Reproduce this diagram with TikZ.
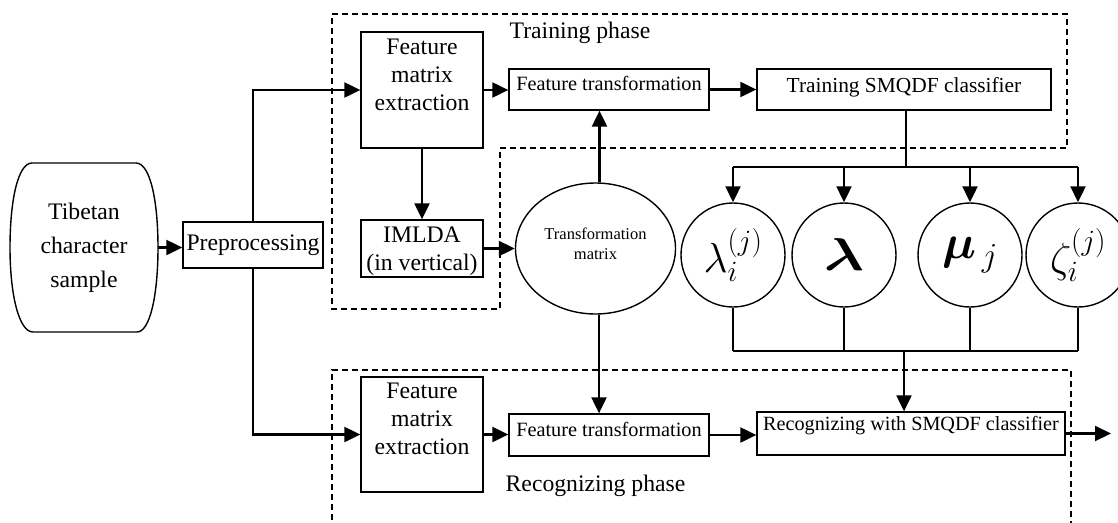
\RequirePackage{fix-cm}
\documentclass[tikz,border=0pt]{standalone}
\usepackage{amsmath,bm,graphicx}
\usepackage{fontspec}
\setmainfont{Liberation Serif}
\usetikzlibrary{arrows.meta,shapes.geometric}
\newcommand\lift[2]{\raisebox{#1}[\height][\depth]{#2}}
\newcommand\fbig{\fontsize{23.7}{28}\selectfont}
\newcommand\fmidA{\fontsize{20.3}{24}\selectfont}
\newcommand\fmidB{\fontsize{21.4}{25}\selectfont}
\newcommand\fmidC{\fontsize{20.2}{24}\selectfont}
\begin{document}
\begin{tikzpicture}[x=1pt,y=-1pt,
  box/.style={draw,line width=1.3pt,inner sep=0pt,align=center},
  conn/.style={line width=2.1pt,-{Triangle[length=16pt,width=15pt]}},
  wire/.style={line width=1.4pt},
  region/.style={line width=1.3pt,dash pattern=on 6pt off 4pt},
  param/.style={draw,circle,line width=1.4pt,minimum size=104pt,inner sep=0pt}]
\useasboundingbox (0,0) rectangle (1118,522);
\clip (0,0) rectangle (1118,522);

% dashed phase regions
\draw[region] (332,14) -- (1067,14) -- (1067,148) -- (500,148) -- (500,309) -- (332,309) -- cycle;
\draw[region] (332,530) -- (332,370) -- (1071,370) -- (1071,530);
\node (trainlbl) at (580,33) {\fbig Training phase};
\node (recoglbl) at (595.5,486) {\fbig Recognizing phase};

% input sample
\draw[wire] (32,163) -- (136,163) .. controls (150,163) and (158,200) .. (158,247.5)
  .. controls (158,295) and (150,332) .. (137,332) -- (33,332)
  .. controls (19,332) and (10,295) .. (10,247.5)
  .. controls (10,200) and (18,163) .. (32,163) -- cycle;
\node[align=center,inner sep=0pt,minimum width=148pt,minimum height=169pt,font=\fontsize{23.7}{34}\selectfont] (tib) at (84,247.5) {Tibetan\\character\\sample};

\node[box,minimum width=140pt,minimum height=46pt] (prep) at (253,245) {\fbig Preprocessing};

% training phase
\node[box,minimum width=122pt,minimum height=116pt] (fme1) at (422,90)
  {\lift{13pt}{\fbig\begin{tabular}{@{}c@{}}Feature\\matrix\\extraction\end{tabular}}};
\node[box,minimum width=122pt,minimum height=57pt] (imlda) at (422,248.5)
  {\lift{-2.5pt}{\fbig\begin{tabular}{@{}c@{}}IMLDA\\(in vertical)\end{tabular}}};
\node[box,minimum width=200pt,minimum height=41pt] (ft1) at (609,89.5)
  {\lift{6pt}{\fmidA Feature transformation}};
\node[box,minimum width=294pt,minimum height=41pt] (tsc) at (904,89.5)
  {\lift{2pt}{\fmidB Training SMQDF classifier}};
\node[draw,ellipse,line width=1.4pt,minimum width=160pt,minimum height=131pt,inner sep=0pt] (tm) at (595.5,248.5)
  {\lift{3.5pt}{\fontsize{16.5}{20}\selectfont\begin{tabular}{@{}c@{}}Transformation\\matrix\end{tabular}}};

% parameters
\node[param] (c1) at (733,255) {\fontsize{42}{46}\selectfont$\lambda_i^{(j)}$};
\node[param] (c2) at (844,255) {\fontsize{46}{50}\selectfont\scalebox{1.3}[1]{$\bm{\lambda}$}};
\node[param] (c3) at (970,255) {\fontsize{48}{52}\selectfont$\bm{\mu}_{\,j}$};
\node[param] (c4) at (1078,255) {\fontsize{42}{46}\selectfont$\zeta_i^{(j)}$};

% recognizing phase
\node[box,minimum width=122pt,minimum height=115pt] (fme2) at (422,434.5)
  {\lift{13.5pt}{\fbig\begin{tabular}{@{}c@{}}Feature\\matrix\\extraction\end{tabular}}};
\node[box,minimum width=200pt,minimum height=42pt] (ft2) at (609,435)
  {\lift{6pt}{\fmidA Feature transformation}};
\node[box,minimum width=308pt,minimum height=43pt] (rsc) at (911,433.5)
  {\lift{7.5pt}{\fmidC Recognizing with SMQDF classifier}};

\coordinate (bt) at (906,167);
\coordinate (bb) at (904,351);
\coordinate (out) at (1111,433.5);

% connectors
\draw[conn] (tib.east) -- (prep.west |- tib.east);
\draw[conn] (prep.north) |- (fme1.west);
\draw[conn] (prep.south) |- (fme2.west);
\draw[conn] (fme1.east) -- (ft1.west |- fme1.east);
\draw[conn] (ft1.east) -- (tsc.west);
\draw[conn] (fme1.south) -- (imlda.north);
\draw[conn] (imlda.east) -- (tm.west);
\draw[conn] ([xshift=4pt]tm.north) -- ([xshift=4pt]tm.north |- ft1.south);
\draw[conn] ([xshift=3.5pt]tm.south) -- ([xshift=3.5pt]tm.south |- ft2.north);
\draw[conn] (fme2.east) -- (ft2.west |- fme2.east);
\draw[conn] (ft2.east) -- (rsc.west |- ft2.east);
\draw[conn] (rsc.east) -- (out);

\draw[wire] (tsc.south -| bt) -- (bt);
\draw[wire] (c1.north |- bt) -- (c4.north |- bt);
\foreach \c in {c1,c2,c3,c4}{
  \draw[conn] (\c.north |- bt) -- (\c.north);
  \draw[wire] (\c.south) -- (\c.south |- bb);
}
\draw[wire] (c1.south |- bb) -- (c4.south |- bb);
\draw[conn] (bb) -- (bb |- rsc.north);
\end{tikzpicture}
\end{document}
